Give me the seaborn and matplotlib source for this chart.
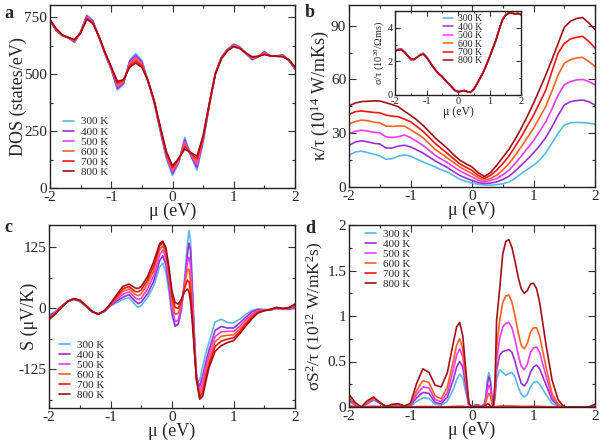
import matplotlib
matplotlib.use("Agg")
import matplotlib.pyplot as plt
import seaborn as sns
from matplotlib.ticker import MultipleLocator, FuncFormatter

temps = ['300 K', '400 K', '500 K', '600 K', '700 K', '800 K']
colors = ['#5ab8ec', '#9b30d0', '#f03cf0', '#ff6020', '#ff1010', '#a0101a']

# mu grid (eV) for panels a, b and the inset
mu_ab = [-2.0, -1.9, -1.8, -1.7, -1.6, -1.5, -1.4, -1.3, -1.2, -1.1,
         -1.0, -0.9, -0.8, -0.7, -0.6, -0.5, -0.4, -0.3, -0.2, -0.1,
         0.0, 0.1, 0.2, 0.3, 0.4, 0.5, 0.6, 0.7, 0.8, 0.9,
         1.0, 1.1, 1.2, 1.3, 1.4, 1.5, 1.6, 1.7, 1.8, 1.9, 2.0]

# a: DOS (states/eV)
dos_300 = [735,690,668,658,638,685,758,735,660,585, 520,430,455,560,590,560,470,375,250,130,
           55,110,222,140,78,200,360,505,575,610, 632,620,590,562,575,600,578,580,585,560, 520]
dos_400 = [736,692,669,659,641,684,755,732,661,587, 522,437,459,555,582,554,470,377,254,136,
           64,114,212,143,90,206,362,504,573,609, 629,618,590,565,576,597,578,579,583,561, 523]
dos_500 = [736,694,670,659,644,683,751,729,662,589, 525,445,463,549,574,548,470,379,258,142,
           72,118,202,146,102,212,364,503,572,607, 627,616,591,568,577,594,579,579,581,561, 525]
dos_600 = [737,696,671,660,646,682,747,727,663,591, 527,452,467,543,566,542,470,381,262,148,
           80,122,192,149,114,218,366,502,570,606, 624,615,591,570,577,591,579,578,579,562, 528]
dos_700 = [737,698,671,660,649,681,744,724,664,593, 530,460,471,536,557,536,470,383,266,154,
           89,126,181,152,127,224,368,501,569,604, 622,613,592,573,578,588,580,578,577,562, 530]
dos_800 = [738,700,672,660,652,680,740,722,665,595, 532,468,475,530,548,530,470,385,270,160,
           97,130,170,155,140,230,370,500,568,603, 620,612,592,576,578,585,580,578,576,562, 532]

# b: kappa/tau (1e14 W/mKs)
k_300 = [17.7,19.5,20.0,19.2,18.3,17.4,15.5,15.8,17.2,17.9, 17.2,15.6,14.0,12.6,11.2,9.6,8.4,6.4,4.3,3.2,
         2.2,1.5,1.1,1.0,1.3,1.8,2.8,4.8,7.5,9.8, 12.1,15.0,19.0,24.5,30.0,34.5,35.8,36.0,35.9,35.6, 35.1]
k_400 = [23.3,25.0,25.8,25.2,24.4,24.0,21.8,21.7,22.8,23.3, 22.4,20.7,19.0,16.8,14.6,12.7,10.8,8.6,6.5,5.0,
         3.7,2.5,1.9,2.2,2.8,4.2,6.0,8.8,12.1,15.5, 19.0,23.0,27.6,33.5,40.0,45.7,47.6,48.2,48.5,47.6, 45.7]
k_500 = [29.9,31.0,31.7,31.2,30.5,30.2,28.0,27.6,28.0,29.0, 27.6,25.5,23.3,20.5,17.7,15.6,13.6,11.3,9.0,7.3,
         5.6,3.8,2.8,3.6,4.7,6.8,9.3,13.0,17.2,21.5, 25.8,31.0,36.4,43.5,51.3,57.0,58.8,59.7,60.0,58.8, 57.0]
k_600 = [35.1,36.5,37.3,37.0,36.2,35.8,34.0,33.8,34.0,34.0, 32.0,29.8,27.6,24.3,21.0,18.6,16.2,13.7,11.2,9.3,
         7.5,5.2,3.7,4.8,6.5,9.5,13.0,17.5,22.4,27.5, 32.7,38.8,45.0,53.5,62.5,69.0,71.0,72.0,72.3,70.0, 67.2]
k_700 = [40.5,42.0,42.4,42.0,41.6,41.4,40.1,39.5,39.2,37.9, 36.4,33.8,31.2,27.8,24.3,21.5,18.7,15.8,13.0,11.0,
         9.3,6.5,4.7,6.5,9.3,13.0,17.2,22.5,28.0,34.0, 40.0,47.0,54.0,64.5,74.7,80.0,82.5,83.5,84.0,81.2, 77.5]
k_800 = [45.2,46.8,47.6,47.8,48.0,48.0,47.0,46.0,44.8,42.3, 40.0,37.5,34.5,31.0,27.4,24.5,21.5,18.0,15.0,13.0,
         11.2,8.0,5.8,8.0,12.0,16.5,21.0,26.5,32.7,39.5, 46.7,54.5,62.5,71.0,80.0,89.0,92.4,94.0,94.5,91.5, 87.8]

# inset: sigma/tau (1e20 / Ohm m s)
s_300 = [2.63,2.72,2.76,2.58,2.33,2.10,2.09,2.24,2.42,2.50, 2.28,1.97,1.69,1.44,1.25,1.10,0.88,0.67,0.47,0.25,
         0.17,0.22,0.28,0.18,0.14,0.33,0.65,1.00,1.36,1.79, 2.26,2.76,3.26,3.88,4.46,4.76,4.90,4.92,4.84,4.87, 4.80]
s_400 = [2.63,2.71,2.75,2.57,2.34,2.11,2.10,2.24,2.41,2.48, 2.27,1.97,1.69,1.44,1.25,1.10,0.88,0.67,0.47,0.26,
         0.18,0.22,0.27,0.19,0.15,0.33,0.65,1.00,1.36,1.79, 2.26,2.76,3.25,3.87,4.45,4.75,4.89,4.91,4.83,4.86, 4.79]
s_500 = [2.62,2.70,2.73,2.56,2.34,2.12,2.11,2.24,2.40,2.46, 2.26,1.97,1.70,1.45,1.25,1.09,0.88,0.68,0.48,0.27,
         0.19,0.22,0.27,0.19,0.16,0.34,0.66,1.00,1.35,1.78, 2.25,2.75,3.25,3.86,4.44,4.74,4.88,4.90,4.83,4.86, 4.79]
s_600 = [2.62,2.69,2.72,2.56,2.35,2.13,2.11,2.24,2.39,2.45, 2.26,1.98,1.70,1.45,1.25,1.09,0.88,0.68,0.48,0.27,
         0.19,0.22,0.26,0.20,0.17,0.34,0.66,1.00,1.35,1.78, 2.25,2.75,3.24,3.86,4.43,4.73,4.87,4.89,4.82,4.85, 4.78]
s_700 = [2.62,2.68,2.71,2.55,2.35,2.14,2.12,2.24,2.38,2.43, 2.25,1.98,1.70,1.45,1.25,1.08,0.88,0.68,0.48,0.28,
         0.20,0.22,0.26,0.20,0.18,0.35,0.66,1.00,1.35,1.78, 2.25,2.75,3.24,3.85,4.42,4.72,4.86,4.88,4.82,4.85, 4.78]
s_800 = [2.62,2.68,2.70,2.55,2.35,2.15,2.12,2.24,2.38,2.42, 2.25,1.98,1.70,1.45,1.25,1.08,0.88,0.68,0.48,0.28,
         0.20,0.22,0.26,0.20,0.18,0.35,0.66,1.00,1.35,1.78, 2.25,2.75,3.24,3.85,4.42,4.72,4.85,4.88,4.82,4.85, 4.78]

# c: Seebeck S (uV/K)
mu_c = [-2.0,-1.9,-1.8,-1.7,-1.6,-1.5,-1.4,-1.3,-1.2,-1.1, -1.0,-0.9,-0.8,-0.7,-0.6,-0.55,-0.5,-0.4,-0.3,-0.2,
        -0.15,-0.1,-0.05,0.0,0.05,0.1,0.15,0.2,0.25,0.275, 0.3,0.325,0.35,0.375,0.4,0.45,0.5,0.55,0.6,
        0.7,0.8,0.9,1.0,1.1,1.2,1.3,1.4,1.5,1.6,1.7,1.8,1.9,2.0]
S_300 = [-14,-6,5,14,18,14,4,-7,-11,-6, 5,12,18,22,8,2,6,22,45,85,
         93,75,35,-15,-37,-33,-5,55,130,160, 140,70,-10,-80,-145,-148,-118,-92,-70,
         -28,-22,-29,-30,-22,-12,-4,-1,-2,-3,0,-2,-2,0]
S_400 = [-16,-8,4,14,19,15,5,-7,-11,-6, 6,15,23,28,15,10,13,30,55,98,
         108,90,48,-8,-36,-32,-3,48,110,134, 120,55,-20,-90,-142,-160,-138,-110,-86,
         -45,-37,-40,-40,-30,-18,-7,-2,-3,-3,0,-1,-1,2]
S_500 = [-18,-9,3,14,19,16,5,-6,-11,-6, 7,18,29,34,22,18,21,40,66,110,
         120,102,60,2,-27,-24,3,45,95,105, 90,35,-30,-96,-144,-170,-152,-122,-98,
         -58,-48,-47,-47,-37,-23,-11,-4,-3,-3,1,-1,0,4]
S_600 = [-19,-10,3,14,20,16,6,-6,-12,-5, 8,21,35,40,29,26,30,50,77,121,
         128,112,70,15,-12,-10,10,42,80,80, 58,10,-42,-100,-145,-177,-163,-132,-108,
         -68,-57,-55,-54,-43,-28,-15,-6,-4,-2,1,-1,1,6]
S_700 = [-21,-11,2,14,20,17,6,-6,-12,-5, 9,25,40,45,35,34,38,58,86,128,
         135,120,78,26,2,0,14,40,58,55, 35,-5,-55,-105,-146,-183,-172,-141,-116,
         -78,-67,-63,-60,-48,-32,-18,-8,-4,-2,2,0,1,8]
S_800 = [-23,-12,2,14,20,17,6,-6,-12,-5, 10,28,45,50,42,41,45,65,95,133,
         138,125,85,35,12,9,18,33,40,34, 15,-20,-62,-108,-147,-186,-180,-150,-122,
         -88,-76,-70,-66,-52,-36,-21,-9,-5,-2,2,0,2,9]

# d: power factor sigma S^2 / tau (1e12 W/mK^2 s)
mu_d = [-2.0,-1.9,-1.8,-1.7,-1.6,-1.5,-1.4,-1.3,-1.2,-1.1,
        -1.0,-0.9,-0.8,-0.7,-0.6,-0.5,-0.4,-0.3,-0.25,-0.2,-0.15,-0.1,-0.05,
        0.0,0.05,0.1,0.15,0.2,0.225,0.25,0.275,0.3,0.325,0.35,0.375,0.4,
        0.45,0.5,0.55,0.6,0.65,0.7,0.75,0.8,0.85,0.9,0.95,1.0,1.05,1.1,
        1.2,1.3,1.4,1.5,1.6,1.7,1.8,1.9,2.0]
P_300 = [0.06,0.02,0.002,0.035,0.075,0.04,0.003,0.012,0.025,0.006,
         0.01,0.06,0.10,0.095,0.03,0.02,0.065,0.20,0.30,0.36,0.32,0.16,0.01,
         0.0,0.02,0.025,0.005,0.03,0.12,0.30,0.38,0.30,0.10,0.01,0.10,0.30,
         0.41,0.38,0.35,0.37,0.38,0.33,0.22,0.14,0.11,0.14,0.22,0.27,0.28,0.25,
         0.14,0.04,0.005,0.0,0.0,0.0,0.0,0.0,0.005]
P_400 = [0.08,0.025,0.0,0.04,0.085,0.045,0.003,0.015,0.028,0.008,
         0.02,0.10,0.16,0.15,0.05,0.035,0.11,0.31,0.44,0.50,0.44,0.22,0.015,
         0.0,0.02,0.025,0.005,0.03,0.10,0.25,0.33,0.28,0.09,0.01,0.14,0.40,
         0.57,0.61,0.62,0.63,0.60,0.50,0.37,0.26,0.23,0.28,0.38,0.44,0.46,0.42,
         0.25,0.08,0.015,0.0,0.0,0.0,0.0,0.0,0.008]
P_500 = [0.09,0.03,0.0,0.045,0.09,0.05,0.004,0.016,0.03,0.01,
         0.02,0.14,0.22,0.21,0.08,0.06,0.16,0.42,0.57,0.64,0.55,0.28,0.02,
         0.0,0.015,0.02,0.004,0.025,0.08,0.18,0.24,0.20,0.06,0.01,0.17,0.52,
         0.75,0.88,0.92,0.93,0.87,0.74,0.58,0.45,0.41,0.47,0.60,0.65,0.66,0.60,
         0.35,0.11,0.02,0.0,0.0,0.0,0.0,0.0,0.01]
P_600 = [0.11,0.035,0.0,0.05,0.095,0.055,0.004,0.018,0.033,0.01,
         0.03,0.18,0.29,0.27,0.12,0.09,0.22,0.52,0.68,0.75,0.64,0.33,0.03,
         0.0,0.01,0.015,0.003,0.02,0.05,0.11,0.15,0.12,0.03,0.01,0.20,0.65,
         0.95,1.15,1.22,1.23,1.15,1.00,0.82,0.68,0.64,0.70,0.82,0.87,0.87,0.78,
         0.45,0.15,0.03,0.0,0.0,0.0,0.0,0.0,0.015]
P_700 = [0.01,0.005,0.0,0.005,0.008,0.005,0.0,0.002,0.003,0.001,
         0.002,0.004,0.005,0.005,0.003,0.002,0.004,0.006,0.007,0.008,0.007,0.004,0.001,
         0.0,0.001,0.001,0.0,0.001,0.002,0.003,0.004,0.003,0.001,0.0,0.003,0.006,
         0.008,0.009,0.01,0.01,0.009,0.008,0.007,0.006,0.006,0.006,0.007,0.007,0.007,0.006,
         0.004,0.002,0.001,0.0,0.0,0.0,0.0,0.0,0.001]
P_800 = [0.14,0.05,0.0,0.07,0.11,0.05,0.005,0.03,0.035,0.01,
         0.04,0.26,0.42,0.38,0.24,0.22,0.38,0.72,0.88,0.93,0.78,0.40,0.04,
         0.0,0.005,0.005,0.0,0.01,0.02,0.035,0.03,0.01,0.0,0.03,0.30,0.95,
         1.30,1.68,1.82,1.84,1.75,1.60,1.43,1.30,1.25,1.28,1.35,1.36,1.30,1.15,
         0.70,0.30,0.08,0.0,0.0,0.0,0.0,0.002,0.03]

sns.set_style("ticks")
plt.rcParams['font.family'] = ['Liberation Serif', 'DejaVu Serif']
plt.rcParams['mathtext.fontset'] = 'custom'
plt.rcParams['mathtext.rm'] = 'Liberation Serif'
plt.rcParams['mathtext.default'] = 'regular'
plt.rcParams['axes.unicode_minus'] = False

W, H = 600, 443
fig = plt.figure(figsize=(W / 100, H / 100), dpi=100)


def px_axes(l, t, r, b):
    return fig.add_axes([l / W, 1 - b / H, (r - l) / W, (b - t) / H])


def style(ax, ylim, ymaj, ymin, fs=11, ml=5, pad=2):
    ax.set_xlim(-2, 2)
    ax.set_ylim(*ylim)
    ax.xaxis.set_major_locator(MultipleLocator(1))
    ax.xaxis.set_minor_locator(MultipleLocator(0.5))
    ax.yaxis.set_major_locator(MultipleLocator(ymaj))
    ax.yaxis.set_minor_locator(MultipleLocator(ymin))
    fmt = FuncFormatter(lambda v, p: '%g' % v)
    ax.xaxis.set_major_formatter(fmt)
    ax.yaxis.set_major_formatter(fmt)
    ax.tick_params(which='both', direction='in', top=True, right=True, width=0.8, color='#333333')
    ax.tick_params(which='major', length=ml, labelsize=fs, pad=pad)
    ax.tick_params(which='minor', length=ml / 2)
    for s in ax.spines.values():
        s.set_linewidth(1.0)
        s.set_color('#222222')


def draw(ax, x, series, lw=1.2):
    for lab, col, y in zip(temps, colors, series):
        sns.lineplot(x=x, y=y, ax=ax, color=col, lw=lw, label=lab, sort=False)


def legend(ax, x, y, fs=8, sp=0.03):
    ax.legend(loc='upper left', bbox_to_anchor=(x, y), frameon=False, fontsize=fs,
              handlelength=1.0, handletextpad=0.6, labelspacing=sp,
              borderpad=0, borderaxespad=0)


def labels(ax, xl, yl, xpos, ypos, fs=13, yfs=None):
    ax.set_xlabel(xl, fontsize=fs, va='center')
    ax.set_ylabel(yl, fontsize=yfs or fs, va='center')
    ax.xaxis.set_label_coords(0.5, xpos)
    ax.yaxis.set_label_coords(ypos, 0.5)


ax_a = px_axes(50, 5, 295, 188)
ax_b = px_axes(349, 5, 595, 187)
ax_c = px_axes(49, 225, 295, 408)
ax_d = px_axes(349, 225, 595, 407)
ax_in = px_axes(395, 11, 521, 95)

# a
draw(ax_a, mu_ab, [dos_300, dos_400, dos_500, dos_600, dos_700, dos_800])
style(ax_a, (0, 803), 250, 125)
labels(ax_a, 'μ (eV)', 'DOS (states/eV)', -0.13, -0.129)
legend(ax_a, 0.053, 0.39)

# b
draw(ax_b, mu_ab, [k_300, k_400, k_500, k_600, k_700, k_800])
style(ax_b, (0, 101.5), 30, 15)
labels(ax_b, 'μ (eV)', 'κ/τ (10$^{14}$ W/mKs)', -0.13, -0.12)
ax_b.get_legend().remove()

# inset of b
draw(ax_in, mu_ab, [s_300, s_400, s_500, s_600, s_700, s_800], lw=1.1)
style(ax_in, (0, 5), 2, 1, fs=7.5, ml=3.5, pad=1.5)
labels(ax_in, 'μ (eV)', 'σ/τ (10$^{20}$/Ωms)', -0.2, -0.125, fs=8.5, yfs=7.5)
legend(ax_in, 0.38, 0.96, fs=7, sp=-0.06)

# c
draw(ax_c, mu_c, [S_300, S_400, S_500, S_600, S_700, S_800])
style(ax_c, (-204, 171), 125, 62.5)
labels(ax_c, 'μ (eV)', 'S (μV/K)', -0.13, -0.079)
legend(ax_c, 0.041, 0.372)

# d
draw(ax_d, mu_d, [P_300, P_400, P_500, P_600, P_700, P_800])
style(ax_d, (0, 2), 0.5, 0.25)
labels(ax_d, 'μ (eV)', 'σS$^2$/τ (10$^{12}$ W/mK$^2$s)', -0.13, -0.135, yfs=12.5)
legend(ax_d, 0.065, 0.978)

for lab, x, y in [('a', 4, 18), ('b', 305, 17), ('c', 4, 232), ('d', 305, 233)]:
    fig.text(x / W, 1 - y / H, lab, fontsize=13, fontweight='bold', va='baseline')

fig.savefig('out.png', dpi=100)
